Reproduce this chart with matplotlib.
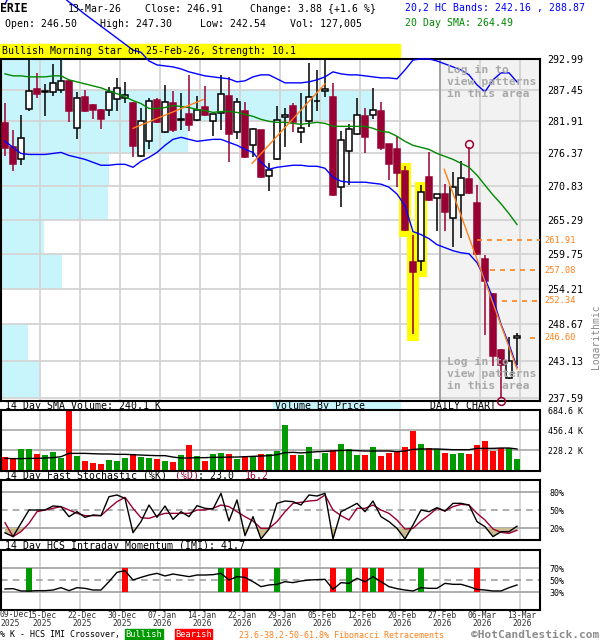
import numpy as np
import matplotlib
matplotlib.use('Agg')
import matplotlib.pyplot as plt
import matplotlib.transforms as mtrans
from matplotlib.patches import Rectangle
from matplotlib.ticker import FixedLocator, NullLocator

# ---------------- data ----------------
opens = [281.56, 277.41, 275.36, 283.99, 287.63, 287.00, 287.10, 287.45, 289.06, 280.70,
         286.24, 284.85, 283.81, 283.81, 285.89, 286.07, 285.20, 275.87, 278.45, 285.72,
         280.01, 285.20, 282.20, 283.12, 282.09, 284.51, 281.91, 283.30, 286.41, 280.01,
         283.64, 277.76, 280.35, 272.51, 275.36, 282.61, 284.68, 280.01, 281.91, 285.40,
         287.28, 286.24, 270.67, 276.72, 279.66, 282.78, 282.95, 283.64, 277.93, 277.07,
         273.35, 258.48, 258.64, 272.34, 268.88, 269.53, 265.62, 269.36, 272.00, 268.06,
         258.96, 253.44, 244.82, 240.52, 246.50]
highs = [285.20, 280.35, 282.95, 292.81, 290.49, 288.52, 292.10, 292.81, 289.20, 287.10,
         287.45, 284.95, 283.99, 287.99, 289.59, 288.88, 285.37, 284.16, 286.07, 286.07,
         288.34, 287.28, 286.93, 290.13, 286.41, 288.16, 283.20, 290.13, 289.77, 286.07,
         285.37, 280.70, 280.45, 274.69, 284.68, 284.16, 285.20, 286.93, 292.28, 291.02,
         292.81, 288.70, 280.18, 281.39, 286.07, 284.33, 287.80, 285.37, 278.00, 279.31,
         274.19, 262.85, 271.00, 276.54, 269.60, 271.17, 273.18, 275.03, 277.41, 271.00,
         259.59, 253.50, 244.90, 246.67, 247.30]
lows = [275.87, 273.35, 274.36, 283.64, 286.07, 282.78, 286.41, 286.93, 281.74, 278.79,
        283.47, 282.26, 280.53, 282.78, 283.64, 285.20, 275.70, 275.70, 277.07, 281.60,
        279.90, 280.01, 280.35, 280.18, 281.95, 282.90, 279.31, 280.35, 274.86, 278.79,
        275.60, 275.70, 272.17, 270.02, 275.20, 277.41, 280.01, 278.10, 280.87, 283.64,
        286.24, 269.20, 267.41, 271.00, 279.50, 276.37, 282.26, 276.90, 271.84, 270.67,
        263.50, 247.13, 257.06, 268.40, 263.50, 263.50, 260.89, 262.36, 269.60, 259.60,
        246.98, 242.36, 237.59, 240.40, 242.54]
closes = [277.24, 274.52, 278.97, 287.28, 286.76, 287.20, 288.70, 289.06, 283.64, 286.07,
          283.64, 283.81, 282.26, 287.10, 287.80, 286.58, 277.58, 281.91, 285.55, 281.74,
          285.37, 280.35, 282.30, 281.22, 283.81, 282.95, 283.12, 286.76, 279.66, 285.37,
          275.70, 280.53, 272.34, 273.52, 282.09, 282.95, 281.74, 280.70, 286.24, 285.50,
          287.63, 269.36, 278.62, 280.53, 282.95, 279.14, 283.81, 277.24, 274.52, 273.01,
          263.66, 256.90, 269.85, 268.55, 269.53, 266.59, 270.67, 272.17, 269.69, 259.75,
          255.48, 243.90, 242.51, 243.03, 246.91]

band_up = [303.1, 306.1, 307.7, 308.6, 308.6, 307.7, 306.1, 304.8, 303.5, 302.4,
           301.2, 300.1, 299.0, 297.9, 296.8, 295.7, 294.6, 294.2, 292.63, 291.92,
           291.74, 291.56, 291.20, 290.67, 290.31, 289.95, 289.77, 289.59, 289.42, 288.88,
           289.06, 289.77, 290.13, 290.13, 289.42, 288.70, 288.70, 288.70, 288.88, 289.24,
           289.77, 290.67, 290.31, 290.13, 290.13, 289.95, 289.77, 289.59, 289.59, 289.42,
           291.02, 292.81, 293.00, 293.00, 292.63, 292.10, 291.56, 291.02, 290.13, 288.34,
           287.10, 289.24, 290.49, 290.49, 288.87]
band_lo = [278.45, 277.41, 276.37, 276.20, 276.20, 276.20, 276.37, 276.55, 276.03, 275.70,
           275.36, 274.86, 274.36, 274.36, 274.52, 274.52, 274.02, 275.03, 275.70, 276.55,
           277.76, 278.79, 279.14, 278.79, 278.45, 278.62, 278.79, 278.79, 278.27, 277.76,
           277.07, 276.55, 274.86, 273.68, 274.02, 274.19, 274.36, 274.36, 274.19, 274.19,
           273.85, 272.34, 271.67, 271.50, 271.50, 271.50, 271.33, 271.17, 270.67, 269.53,
           267.57, 263.34, 262.85, 262.19, 261.22, 260.73, 260.24, 259.91, 259.75, 258.33,
           255.79, 252.67, 248.67, 245.59, 242.16]
sma20 = [290.31, 289.95, 289.95, 289.77, 289.77, 289.77, 289.95, 289.95, 289.24, 288.88,
         288.52, 288.16, 287.81, 287.28, 286.76, 286.24, 285.55, 285.03, 284.16, 284.16,
         284.33, 284.68, 284.51, 284.33, 283.99, 283.81, 283.47, 283.64, 283.64, 283.47,
         283.12, 282.78, 282.26, 281.91, 281.74, 281.74, 281.56, 281.39, 281.56, 281.74,
         281.56, 281.04, 281.04, 281.04, 281.04, 281.04, 280.70, 280.18, 280.01, 279.31,
         278.45, 277.76, 277.41, 277.07, 276.37, 275.87, 275.36, 274.69, 274.02, 272.68,
         271.00, 269.36, 267.90, 266.27, 264.49]

volume_k = [152, 122, 243, 243, 183, 171, 205, 141, 684.6, 160,
            103, 80, 68, 114, 103, 137, 179, 148, 137, 125,
            103, 91, 171, 285, 160, 103, 183, 194, 183, 125,
            160, 160, 183, 183, 217, 513, 171, 171, 259, 125,
            198, 224, 297, 240, 171, 171, 259, 160, 194, 202,
            259, 445, 297, 251, 240, 194, 183, 194, 183, 285,
            331, 220, 248, 248, 127]
vol_sma_k = [133, 130, 130, 133, 133, 137, 141, 152, 190, 190,
             190, 186, 183, 183, 179, 179, 175, 171, 167, 164,
             164, 148, 137, 137, 141, 141, 145, 145, 148, 148,
             152, 156, 160, 164, 175, 198, 202, 195, 202, 209,
             213, 217, 224, 224, 221, 217, 217, 217, 217, 209,
             217, 236, 240, 240, 240, 236, 232, 232, 232, 247,
             247, 247, 251, 251, 240.1]

stoch_k = [12, 5.6, 27.8, 50, 50, 50, 56.7, 55.6, 38.9, 47.2,
           37.8, 41.7, 40.6, 72.2, 75, 69.4, 12.2, 30.6, 58.3, 37.8,
           56.7, 34.4, 47.2, 38.9, 57.2, 52.8, 51.7, 77.8, 31.7, 66.7,
           7.2, 38.9, 1.7, 18.3, 61.1, 65, 63.9, 58.3, 75, 73.3,
           77.8, 1.7, 47.2, 53.9, 61.1, 47.2, 65, 38.9, 30.6, 19.4,
           1.7, 25, 50, 47.2, 53.9, 48.3, 61.1, 61.1, 58.3, 30.6,
           22.2, 5.6, 13.9, 13.9, 23.0]
stoch_d = [28.9, 5.6, 13.9, 27.8, 47.2, 50, 52.8, 55.6, 50, 44.4,
           40.6, 40.6, 40.6, 52.8, 63.9, 71.1, 52.8, 37.2, 36.1, 40.6,
           44.4, 44.4, 44.4, 44.4, 50, 50, 52.8, 58.3, 55.6, 47.2,
           38.9, 31.7, 19.4, 19.4, 30.6, 47.2, 61.1, 62.8, 65, 66.1,
           75, 50, 40.6, 33.3, 52.8, 52.8, 58.3, 50, 44.4, 33.3,
           18.3, 19.4, 31.7, 41.7, 52.8, 48.3, 55.6, 59.4, 58.3, 44.4,
           33.3, 18.3, 12.8, 11.1, 16.2]
imi = [35, 35.6, 31.7, 31.7, 32.2, 32.2, 33.3, 37.2, 32.2, 37.2,
       36.1, 33.3, 33.3, 47.2, 62.8, 65.6, 50, 54.4, 58.3, 61.1,
       56.7, 60, 57.8, 55.6, 58.3, 58.3, 58.9, 61.1, 50, 55.6,
       54.4, 47.2, 38.9, 41.7, 42.8, 47.2, 45.6, 48.3, 50, 50.6,
       51.1, 34.4, 45.6, 44.4, 52.8, 47.2, 55.6, 47.2, 38.9, 35.6,
       33.3, 31.7, 37.2, 36.1, 36.1, 44.4, 42.8, 42.8, 38.9, 34.4,
       33.3, 31.7, 31.7, 37.2, 41.7]
imi_bull_idx = [3, 27, 29, 34, 43, 46, 52]
imi_bear_idx = [15, 28, 30, 41, 45, 47, 59]

price_ticks = [292.99, 287.45, 281.91, 276.37, 270.83, 265.29, 259.75, 254.21, 248.67, 243.13, 237.59]
vbp = [16.7, 100, 50.3, 29.0, 28.8, 11.6, 16.4, 0, 7.3, 10.2]   # volume by price, relative
fib_levels = [261.91, 257.08, 252.34, 246.60]
fib_start_idx = [59, 60.6, 62.1, 65.6]
trend_lines = [((16, 280.70), (24.75, 285.72)),
               ((30.9, 274.69), (40, 288.52)),
               ((54.9, 273.68), (64, 241.90))]
pattern_idx = [50, 51, 52]
swing_high_idx = 58
swing_low_idx = 62
shade_start_idx = 54
date_labels = ['09-Dec', '15-Dec', '22-Dec', '30-Dec', '07-Jan', '14-Jan', '22-Jan',
               '29-Jan', '05-Feb', '12-Feb', '20-Feb', '27-Feb', '06-Mar', '13-Mar']
year_labels = ['2025', '2025', '2025', '2025', '2026', '2026', '2026',
               '2026', '2026', '2026', '2026', '2026', '2026', '2026']
label_idx = [0, 4, 9, 14, 19, 24, 29, 34, 39, 44, 49, 54, 59, 64]

# ---------------- style ----------------
RED = '#990033'
ORANGE = '#ff8019'
BLUE = '#0000ff'
GREEN = '#008800'
GRID = '#d4d4d4'
MONO = 'DejaVu Sans Mono'
plt.rcParams['font.family'] = MONO

W, H = 600, 640
fig = plt.figure(figsize=(W / 100, H / 100), dpi=100)


def add_ax(l, t, r, b):
    return fig.add_axes([l / W, 1 - b / H, (r - l) / W, (b - t) / H])


def ftext(x, y, s, **kw):
    ha = kw.pop('ha', 'left')
    kw.setdefault('fontsize', 7.1)
    return fig.text(x / W, 1 - y / H, s, va='center', ha=ha, **kw)


def frect(l, t, r, b, color):
    fig.patches.append(Rectangle((l / W, 1 - b / H), (r - l) / W, (b - t) / H,
                                 transform=fig.transFigure, color=color, zorder=-1))


n = len(closes)
x = np.arange(n)
o = np.array(opens); c = np.array(closes)
hi = np.array(highs); lo = np.array(lows)
bull = c >= o
XL = (-0.5, 66.875)
grid_x = [i + 0.375 for i in label_idx[1:]]

# ---------------- main price panel ----------------
ax = add_ax(1, 59, 540, 401)
ax.set_yscale('log')
ax.set_ylim(237.15, 292.99)
ax.set_xlim(*XL)
axb = ax.twiny()
axb.set_xlim(0, 145.2)
edges = np.array(price_ticks)
axb.barh(edges[1:], vbp, height=edges[:-1] - edges[1:], align='edge',
         color='#c8f4fc', zorder=1)
axb.set_xticks([])
for s in axb.spines.values():
    s.set_visible(False)
ax.set_zorder(2)
axb.set_zorder(1)
ax.patch.set_visible(False)

ax.axvspan(shade_start_idx + 0.375, XL[1], color='#f2f2f2', zorder=0.3, lw=0)
for p in price_ticks:
    ax.axhline(p, color=GRID, lw=1.3, zorder=0.8)
for gx in grid_x:
    ax.axvline(gx, color=GRID, lw=1.3, zorder=0.8)
ax.axvline(shade_start_idx + 0.375, color='#999999', lw=1.2, zorder=0.9)

# pattern highlight
pi = np.array(pattern_idx)
ax.bar(pi, hi[pi] * 1.002 - lo[pi] * 0.996, bottom=lo[pi] * 0.996, width=1.4,
       color='#ffff00', zorder=1.5)

# candles
ax.vlines(x, lo, hi, colors=np.where(bull, 'black', RED), lw=1.1, zorder=3)
body_lo = np.minimum(o, c)
body_h = np.maximum(np.abs(c - o), 0.06)
ax.bar(x, body_h, bottom=body_lo, width=0.75,
       color=np.where(bull, 'white', RED), edgecolor=np.where(bull, 'black', RED),
       linewidth=1.1, zorder=4)

# bands & sma
ax.plot(x, band_up, color=BLUE, lw=1, zorder=5, clip_on=False)
ax.plot(x, band_lo, color=BLUE, lw=1, zorder=5)
ax.plot(x, sma20, color=GREEN, lw=1, zorder=5)

# trend lines
for (x0, y0), (x1, y1) in trend_lines:
    ax.plot([x0, x1], [y0, y1], color=ORANGE, lw=1, zorder=5)

# fibonacci
blend = mtrans.blended_transform_factory(ax.transAxes, ax.transData)
for lvl, xs in zip(fib_levels, fib_start_idx):
    ax.hlines(lvl, xs, XL[1], colors=ORANGE, linestyles=(0, (3, 3)), lw=1.2, zorder=5)
    ax.text(1.009, lvl, f'{lvl:.2f}', transform=blend, color=ORANGE, fontsize=6.2,
            va='center', ha='left', clip_on=False)

# swing markers
up = mtrans.offset_copy(ax.transData, fig=fig, x=0, y=3, units='dots')
dn = mtrans.offset_copy(ax.transData, fig=fig, x=0, y=-3, units='dots')
ax.plot(swing_high_idx, highs[swing_high_idx], 'o', ms=5.6, mfc='none', mec=RED,
        mew=1.1, transform=up, zorder=6, clip_on=False)
ax.plot(swing_low_idx, lows[swing_low_idx], 'o', ms=5.6, mfc='none', mec=RED,
        mew=1.1, transform=dn, zorder=6, clip_on=False)

# log-in texts
for ty in (82, 374):
    ax.text(0.828, 1 - (ty - 59) / 342, 'Log in to\nview patterns\nin this area',
            transform=ax.transAxes, color='#a8a8a8', fontsize=8.2, fontweight='bold',
            va='center', ha='left', linespacing=1.25, zorder=7)

ax.yaxis.set_major_locator(FixedLocator(price_ticks))
ax.yaxis.set_minor_locator(NullLocator())
ax.yaxis.tick_right()
ax.set_yticklabels([f'{p:.2f}' for p in price_ticks])
ax.tick_params(axis='y', length=0, pad=5.5, labelsize=7.2)
ax.set_xticks([])
for s in ax.spines.values():
    s.set_linewidth(1.5)

# ---------------- volume panel ----------------
axv = add_ax(1, 410, 540, 471)
axv.set_xlim(*XL)
axv.set_ylim(-11, 684.6)
for gx in grid_x:
    axv.axvline(gx, color=GRID, lw=1.3, zorder=0.8)
for v in (228.2, 456.4):
    axv.axhline(v, color='#a8a8a8', lw=1.2, zorder=0.9)
axv.bar(x, volume_k, width=0.8, color=np.where(bull, '#009900', '#ff0000'), zorder=2)
axv.plot(x, vol_sma_k, color='black', lw=1, zorder=3)
axv.yaxis.tick_right()
axv.set_yticks([228.2, 456.4, 684.6])
axv.set_yticklabels(['228.2 K', '456.4 K', '684.6 K'])
axv.tick_params(axis='y', length=0, pad=6, labelsize=6)
axv.set_xticks([])
for s in axv.spines.values():
    s.set_linewidth(1.5)

# ---------------- stochastic panel ----------------
axs = add_ax(1, 480, 540, 540)
axs.set_xlim(*XL)
axs.set_ylim(0, 100)
for gx in grid_x:
    axs.axvline(gx, color=GRID, lw=1.3, zorder=0.8)
axs.axhline(80, color='#a0a0a0', lw=1.2, zorder=0.9)
axs.axhline(20, color='#a0a0a0', lw=1.2, zorder=0.9)
axs.axhline(50, color='#a0a0a0', lw=1.2, ls=(0, (4, 3)), zorder=0.9)
kk = np.array(stoch_k); dd = np.array(stoch_d)
lowest = np.minimum(kk, dd)
axs.fill_between(x, 20, lowest, where=lowest < 20, interpolate=True,
                 color='#c9bd8f', lw=0, zorder=1)
axs.plot(x, stoch_d, color=RED, lw=1, zorder=3)
axs.plot(x, stoch_k, color='black', lw=1, zorder=4)
axs.yaxis.tick_right()
axs.set_yticks([20, 50, 80])
axs.set_yticklabels(['20%', '50%', '80%'])
axs.tick_params(axis='y', length=0, pad=7, labelsize=6)
axs.set_xticks([])
for s in axs.spines.values():
    s.set_linewidth(1.5)

# ---------------- IMI panel ----------------
axi = add_ax(1, 550, 540, 610)
axi.set_xlim(*XL)
axi.set_ylim(0, 100)
for gx in grid_x:
    axi.axvline(gx, color=GRID, lw=1.3, zorder=0.8)
axi.axhline(70, color='#a0a0a0', lw=1.2, zorder=0.9)
axi.axhline(30, color='#a0a0a0', lw=1.2, zorder=0.9)
axi.axhline(50, color='#a0a0a0', lw=1.2, ls=(0, (4, 3)), zorder=0.9)
axi.bar(imi_bull_idx, 40, bottom=30, width=0.75, color='#009900', zorder=2)
axi.bar(imi_bear_idx, 40, bottom=30, width=0.75, color='#ff0000', zorder=2)
axi.plot(x, imi, color='black', lw=1, zorder=3)
axi.yaxis.tick_right()
axi.set_yticks([30, 50, 70])
axi.set_yticklabels(['30%', '50%', '70%'])
axi.tick_params(axis='y', length=0, pad=7, labelsize=6)
axi.set_xticks([i + 0.625 for i in label_idx[1:]])
axi.set_xticklabels([f'{d}\n{y}' for d, y in zip(date_labels[1:], year_labels[1:])])
axi.tick_params(axis='x', length=0, pad=0.5, labelsize=5.8, labelcolor='#333333')
for lab in axi.get_xticklabels():
    lab.set_linespacing(0.95)
ftext(0, 619, f'{date_labels[0]}\n{year_labels[0]}', fontsize=5.8, color='#333333',
      linespacing=0.95)
for s in axi.spines.values():
    s.set_linewidth(1.5)

# ---------------- texts ----------------
ftext(0, 9, 'ERIE', fontweight='bold', fontsize=8.3)
ftext(68, 9, '13-Mar-26')
ftext(145, 9, 'Close: 246.91')
ftext(250, 9, 'Change: 3.88 {+1.6 %}')
ftext(5, 24, 'Open: 246.50')
ftext(100, 24, 'High: 247.30')
ftext(200, 24, 'Low: 242.54')
ftext(290, 24, 'Vol: 127,005')
ftext(405, 8, '20,2 HC Bands: 242.16 , 288.87', color=BLUE)
ftext(405, 23, '20 Day SMA: 264.49', color=GREEN)
frect(0, 44, 400, 57, '#ffff00')
ftext(2, 51, 'Bullish Morning Star on 25-Feb-26, Strength: 10.1')

ftext(5, 406, '14 Day SMA Volume: 240.1 K')
frect(273, 402, 400, 410, '#c8f4fc')
ftext(275, 406, 'Volume By Price')
ftext(430, 406, 'DAILY CHART')

ftext(5, 476, '14 Day Fast Stochastic (%K)')
ftext(175, 476, '(%D)', color=RED)
ftext(198, 476, ': 23.0')
ftext(245, 476, '16.2', color=RED)
ftext(5, 546, '14 Day HCS Intraday Momentum (IMI): 41.7')

ftext(591, 337, 'Logarithmic', rotation=90, color='#888888', fontsize=7)

ftext(0, 635, '% K - HCS IMI Crossover,', fontsize=6)
frect(125, 629, 163, 640, '#009900')
ftext(144, 634.5, 'Bullish', color='white', ha='center', fontsize=6.2)
frect(175, 629, 212, 640, '#ff0000')
ftext(193.5, 634.5, 'Bearish', color='white', ha='center', fontsize=6.2)
ftext(239, 635, '23.6-38.2-50-61.8% Fibonacci Retracements', color=ORANGE, fontsize=6)
ftext(599, 635, '\u00a9HotCandlestick.com', ha='right', color='#8a8a8a',
      fontweight='bold', fontsize=8)

fig.savefig('out.png', dpi=100)
